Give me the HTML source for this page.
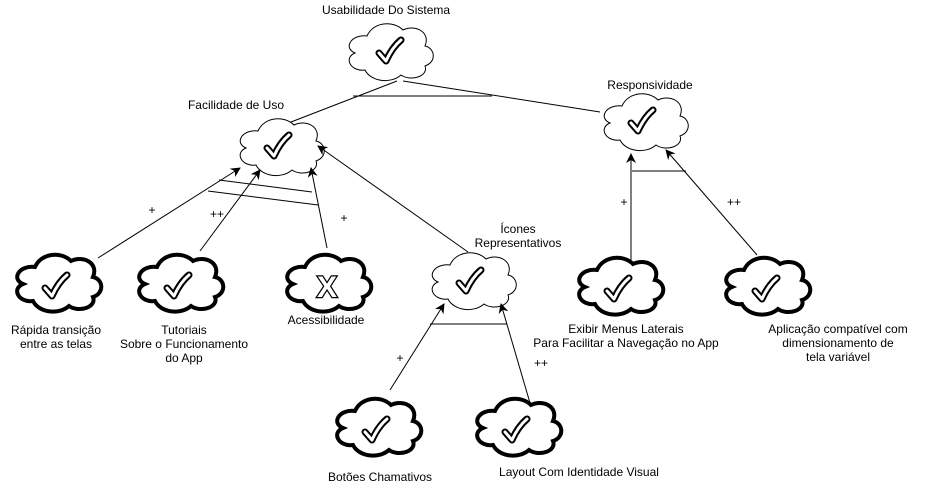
<!DOCTYPE html>
<html><head><meta charset="utf-8"><style>
body{margin:0;background:#fff;}
svg{display:block;font-family:"Liberation Sans",sans-serif;font-size:12px;}
</style></head><body>
<svg width="930" height="499" viewBox="0 0 930 499" xmlns="http://www.w3.org/2000/svg">
<defs>
<path id="cl" d="M22,14 C6,12 -2,26 10,31 C-2,36 6,50 20,48 C26,60 46,62 56,53 C66,60 84,54 80,44 C92,40 90,26 80,24 C86,10 70,2 58,8 C48,-2 28,0 22,14 Z"/>
<g id="ck"><path d="M-11,3 L-4,11 C0,2 5,-5 11,-10" fill="none" stroke="#000" stroke-width="7" stroke-linejoin="round" stroke-linecap="round"/><path d="M-11,3 L-4,11 C0,2 5,-5 11,-10" fill="none" stroke="#fff" stroke-width="3" stroke-linejoin="round" stroke-linecap="round"/></g>
<marker id="ar" markerWidth="10" markerHeight="10" refX="9" refY="5" orient="auto" markerUnits="userSpaceOnUse"><path d="M0,0 L10,5 L0,10 L3,5 Z" fill="#000"/></marker>
</defs>
<g fill="#fff" stroke="#000">
<use href="#cl" transform="translate(345,22)" stroke-width="1"/>
<use href="#cl" transform="translate(236,117)" stroke-width="1"/>
<use href="#cl" transform="translate(600,92)" stroke-width="1"/>
<use href="#cl" transform="translate(428,251)" stroke-width="1"/>
<use href="#cl" transform="translate(13,253)" stroke-width="4"/>
<use href="#cl" transform="translate(135,253)" stroke-width="4"/>
<use href="#cl" transform="translate(283,253)" stroke-width="4"/>
<use href="#cl" transform="translate(575,256)" stroke-width="4"/>
<use href="#cl" transform="translate(722,256)" stroke-width="4"/>
<use href="#cl" transform="translate(333,397)" stroke-width="4"/>
<use href="#cl" transform="translate(473,397)" stroke-width="4"/>
</g>
<use href="#ck" transform="translate(390,50)"/>
<use href="#ck" transform="translate(278,145)"/>
<use href="#ck" transform="translate(642,120)"/>
<use href="#ck" transform="translate(470,280)"/>
<use href="#ck" transform="translate(56,285)"/>
<use href="#ck" transform="translate(178,285)"/>
<use href="#ck" transform="translate(618,288)"/>
<use href="#ck" transform="translate(766,288)"/>
<use href="#ck" transform="translate(376,429)"/>
<use href="#ck" transform="translate(516,429)"/>
<text x="327" y="297" text-anchor="middle" font-size="30" font-weight="bold" fill="#fff" stroke="#000" stroke-width="2.5" paint-order="stroke">X</text>
<g stroke="#000" stroke-width="1" fill="none">
<line x1="397" y1="81" x2="291" y2="122"/>
<line x1="403" y1="81" x2="600" y2="112"/>
<line x1="353" y1="96" x2="492" y2="96"/>
<line x1="98" y1="258" x2="240" y2="168" marker-end="url(#ar)"/>
<line x1="200" y1="251" x2="260" y2="170" marker-end="url(#ar)"/>
<line x1="327" y1="248" x2="311" y2="168" marker-end="url(#ar)"/>
<line x1="468" y1="252" x2="318" y2="146" marker-end="url(#ar)"/>
<line x1="219" y1="180" x2="312" y2="192"/>
<line x1="208" y1="191" x2="318" y2="205"/>
<line x1="390" y1="390" x2="444" y2="304" marker-end="url(#ar)"/>
<line x1="530" y1="403" x2="501" y2="304" marker-end="url(#ar)"/>
<line x1="430" y1="324" x2="507" y2="324"/>
<line x1="631" y1="262" x2="631" y2="154" marker-end="url(#ar)"/>
<line x1="757" y1="255" x2="666" y2="150" marker-end="url(#ar)"/>
<line x1="632" y1="171" x2="686" y2="171"/>
</g>
<g fill="#000" text-anchor="middle">
<text x="386" y="14">Usabilidade Do Sistema</text>
<text x="236" y="109">Facilidade de Uso</text>
<text x="650" y="89">Responsividade</text>
<text x="518" y="233">Ícones</text>
<text x="518" y="247">Representativos</text>
<text x="56" y="334">Rápida transição</text>
<text x="56" y="348">entre as telas</text>
<text x="184" y="334">Tutoriais</text>
<text x="184" y="348">Sobre o Funcionamento</text>
<text x="184" y="362">do App</text>
<text x="326" y="324">Acessibilidade</text>
<text x="626" y="333">Exibir Menus Laterais</text>
<text x="626" y="347">Para Facilitar a Navegação no App</text>
<text x="838" y="333">Aplicação compatível com</text>
<text x="838" y="347">dimensionamento de</text>
<text x="838" y="361">tela variável</text>
<text x="380" y="481">Botões Chamativos</text>
<text x="579" y="476">Layout Com Identidade Visual</text>
<text x="152" y="214">+</text>
<text x="217" y="218">++</text>
<text x="344" y="222">+</text>
<text x="624" y="206">+</text>
<text x="734" y="206">++</text>
<text x="400" y="362">+</text>
<text x="541" y="367">++</text>
</g>
</svg>
</body></html>
